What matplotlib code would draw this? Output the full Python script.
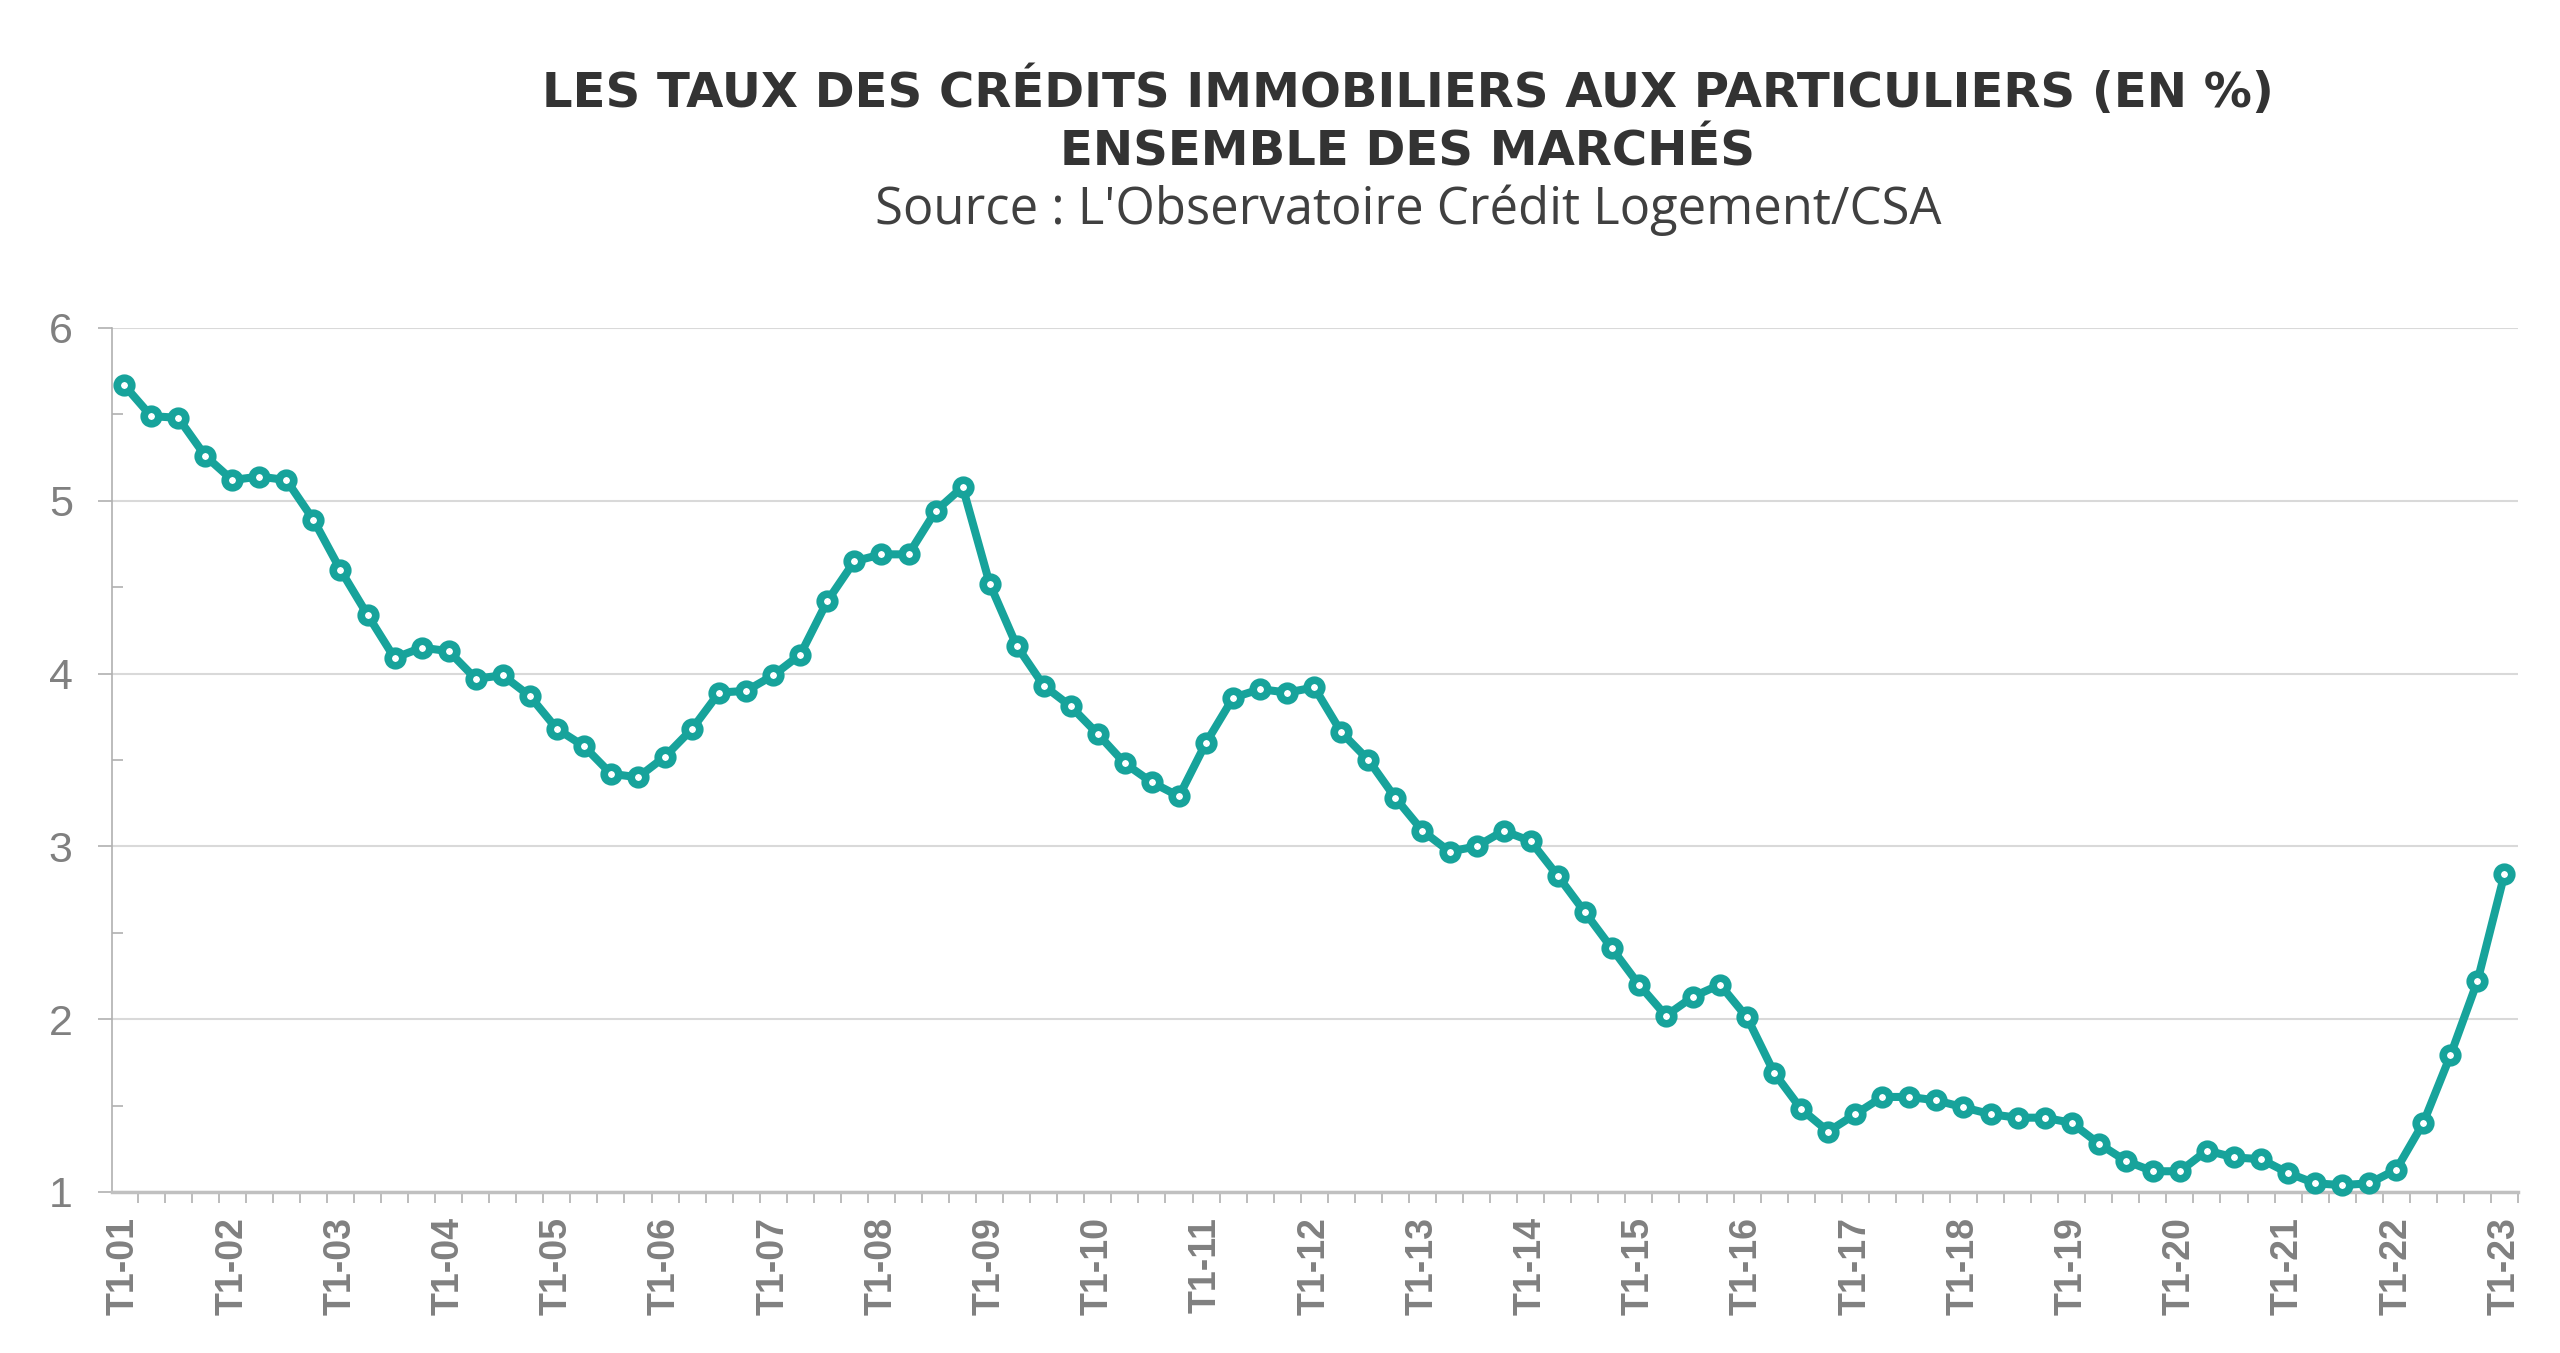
import matplotlib
matplotlib.use("Agg")
import matplotlib.pyplot as plt
from matplotlib.ticker import MultipleLocator, FixedLocator

# Quarterly mortgage rates (%) T1-2001 .. T1-2023
rates = [
    5.67, 5.49, 5.48, 5.26, 5.12, 5.14, 5.12, 4.89, 4.60, 4.34, 4.09, 4.15,
    4.13, 3.97, 3.99, 3.87, 3.68, 3.58, 3.42, 3.40, 3.52, 3.68, 3.89, 3.90,
    3.99, 4.11, 4.42, 4.65, 4.69, 4.69, 4.94, 5.08, 4.52, 4.16, 3.93, 3.81,
    3.65, 3.48, 3.37, 3.29, 3.60, 3.86, 3.91, 3.89, 3.92, 3.66, 3.50, 3.28,
    3.09, 2.97, 3.00, 3.09, 3.03, 2.83, 2.62, 2.41, 2.20, 2.02, 2.13, 2.20,
    2.01, 1.69, 1.48, 1.35, 1.45, 1.55, 1.55, 1.53, 1.49, 1.45, 1.43, 1.43,
    1.40, 1.28, 1.18, 1.12, 1.12, 1.24, 1.20, 1.19, 1.11, 1.05, 1.04, 1.05,
    1.13, 1.40, 1.79, 2.22, 2.84,
]
years = [f"{y:02d}" for y in range(1, 24)]
tick_labels = [f"T1-{y}" for y in years]
y_ticks = [1, 2, 3, 4, 5, 6]

title_lines = ["LES TAUX DES CRÉDITS IMMOBILIERS AUX PARTICULIERS (EN %)",
               "ENSEMBLE DES MARCHÉS"]
source = "Source : L'Observatoire Crédit Logement/CSA"

teal = "#17a39b"
grey = "#808080"

fig = plt.figure(figsize=(25.6, 13.53), dpi=100)
ax = fig.add_axes([0.0436, 0.119, 0.9400, 0.6386])

x = list(range(len(rates)))
ax.plot(x, rates, color=teal, lw=5.8, marker="o", ms=10.5, mew=5.5,
        mfc="white", mec=teal, solid_joinstyle="round", zorder=3, clip_on=False)

ax.set_xlim(-0.46, len(rates) - 1 + 0.5)
ax.set_ylim(1, 6)

ax.set_yticks(y_ticks)
ax.yaxis.set_minor_locator(MultipleLocator(0.5))
ax.set_yticklabels([str(v) for v in y_ticks], fontsize=31, color=grey,
                   family="Liberation Sans")
ax.tick_params(axis="y", which="major", length=10, width=1.2, color="#b0b0b0",
               direction="out", pad=18)
ax.tick_params(axis="y", which="minor", length=8, width=1.2, color="#b0b0b0",
               direction="in")

ax.xaxis.set_major_locator(FixedLocator(list(range(0, len(rates), 4))))
ax.set_xticklabels(tick_labels, rotation=90, fontsize=27, fontweight="bold",
                   color=grey, family="Liberation Sans", va="top", ha="center")
ax.xaxis.set_minor_locator(FixedLocator([i - 0.5 for i in range(len(rates) + 1)]))
ax.tick_params(axis="x", which="major", length=0, pad=18)
ax.tick_params(axis="x", which="minor", length=8, width=1.2, color="#b0b0b0",
               direction="out")

ax.grid(axis="y", which="major", color="#d9d9d9", lw=1.5, zorder=0)
for s in ["top", "right"]:
    ax.spines[s].set_visible(False)
ax.spines["left"].set_color("#b0b0b0")
ax.spines["left"].set_linewidth(1.2)
ax.spines["bottom"].set_color("#c0c0c0")
ax.spines["bottom"].set_linewidth(2.5)

cx = 0.55
fig.text(cx, 1 - 107 / 1353, title_lines[0], ha="center", va="baseline",
         fontsize=34.7, fontweight="bold", color="#333333", family="DejaVu Sans")
fig.text(cx, 1 - 166 / 1353, title_lines[1], ha="center", va="baseline",
         fontsize=34.7, fontweight="bold", color="#333333", family="DejaVu Sans")
fig.text(cx, 1 - 224 / 1353, source, ha="center", va="baseline",
         fontsize=36.5, color="#404040", family="Open Sans")

fig.savefig("out.png", dpi=100, facecolor="white")
